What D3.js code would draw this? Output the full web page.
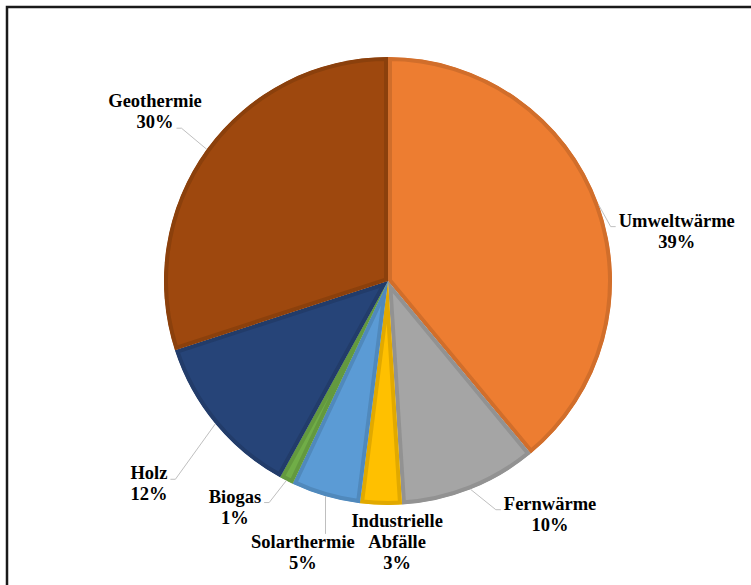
<!DOCTYPE html>
<html>
<head>
<meta charset="utf-8">
<script src="https://cdn.jsdelivr.net/npm/d3@7"></script>
<style>
  body { margin: 0; background: #fff; }
  text { font-family: 'Liberation Serif', 'Times New Roman', serif; font-weight: bold; fill: #000; }
</style>
</head>
<body>
<div id="chart"></div>
<script>
// data
const categories = ['Umweltwärme', 'Fernwärme', 'Industrielle Abfälle', 'Solarthermie', 'Biogas', 'Holz', 'Geothermie'];
const values = [39, 10, 3, 5, 1, 12, 30];
const colors = ['#ED7D31', '#A5A5A5', '#FFC000', '#5B9BD5', '#70AD47', '#264478', '#9E480E'];

// label placement (Excel "best fit" nudges): angle shift in degrees, distance from centre
const labelShift = [10, -13.2, -3.8, 1.2, 7.1, -0.7, 0];
const labelRadius = [293, 284, 261, 284.5, 273, 313.5, 288];
const leaderTo = ['first', 'first', null, 'top', 'first', 'first', 'last'];

const w = 751, h = 585;
const cx = 388, cy = 281, r = 224;
const fs = 18.5, lh = 21;

const svg = d3.select('#chart')
  .append('svg')
    .attr('width', w)
    .attr('height', h);

// frame (only top and left edges are visible in the picture)
svg.append('rect')
  .attr('x', 7)
  .attr('y', 7)
  .attr('width', w + 20)
  .attr('height', h + 20)
  .attr('fill', 'none')
  .attr('stroke', '#1a1a1a')
  .attr('stroke-width', 2.5);

const g = svg.append('g')
  .attr('transform', 'translate(' + cx + ',' + cy + ')');

const pie = d3.pie()
  .value(d => d)
  .sort(null);

const arc = d3.arc()
  .innerRadius(0)
  .outerRadius(r);

const arcs = pie(values);
const total = d3.sum(values);
const fmt = d3.format('.0%');

// clip each slice to itself so the darker border sits inside it
const defs = svg.append('defs');
arcs.forEach((d, i) => {
  defs.append('clipPath')
    .attr('id', 'clip' + i)
    .append('path')
    .attr('d', arc(d));
});

g.selectAll('path.slice')
  .data(arcs)
  .enter()
  .append('path')
  .attr('class', 'slice')
  .attr('d', arc)
  .attr('fill', (d, i) => colors[i])
  .attr('stroke', (d, i) => d3.color(colors[i]).darker(0.35))
  .attr('stroke-width', 8)
  .attr('clip-path', (d, i) => 'url(#clip' + i + ')');

const polar = (deg, rad) => [Math.sin(deg * Math.PI / 180) * rad, -Math.cos(deg * Math.PI / 180) * rad];

const leaders = g.append('g');
const labels = g.append('g');

arcs.forEach((d, i) => {
  const mid = (d.startAngle + d.endAngle) / 2 * 180 / Math.PI;
  const [lx, ly] = polar(mid + labelShift[i], labelRadius[i]);
  const lines = categories[i].split(' ').concat(fmt(values[i] / total));
  const n = lines.length;

  const texts = lines.map((t, k) => labels.append('text')
    .attr('x', lx)
    .attr('y', ly + (k - (n - 1) / 2) * lh + 0.33 * fs)
    .attr('text-anchor', 'middle')
    .style('font-size', fs + 'px')
    .text(t));

  // leader line from slice edge to label
  if (!leaderTo[i]) return;
  const [sx, sy] = polar(mid, r);
  let pts;
  if (leaderTo[i] === 'top') {
    const top = ly - (n - 1) / 2 * lh - 0.33 * fs - 2;
    pts = [[sx, sy], [sx, top]];
  } else {
    const k = leaderTo[i] === 'first' ? 0 : n - 1;
    const wk = texts[k].node().getComputedTextLength();
    const yk = ly + (k - (n - 1) / 2) * lh + 6;
    if (lx > sx) {
      const ex = lx - wk / 2 - 3;
      pts = [[sx, sy], [ex - 5, yk], [ex, yk]];
    } else {
      const ex = lx + wk / 2 + 3;
      pts = [[sx, sy], [ex + 5, yk], [ex, yk]];
    }
  }
  leaders.append('path')
    .attr('d', d3.line()(pts))
    .attr('fill', 'none')
    .attr('stroke', '#bfbfbf')
    .attr('stroke-width', 1);
});
</script>
</body>
</html>
